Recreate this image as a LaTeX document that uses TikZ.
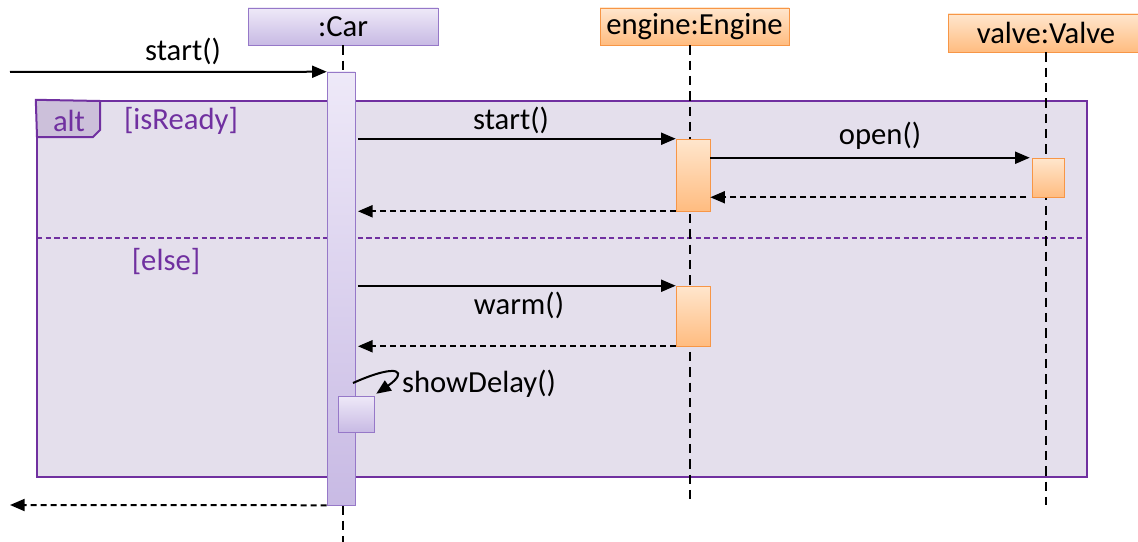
\documentclass[tikz,border=0pt]{standalone}
\usepackage{fontspec}
\setmainfont{Carlito}
\usetikzlibrary{arrows.meta}

\definecolor{framefill}{RGB}{228,223,236}
\definecolor{framedraw}{RGB}{112,48,160}
\definecolor{tabfill}{RGB}{204,192,218}
\definecolor{cartop}{RGB}{238,233,248}
\definecolor{carbot}{RGB}{200,186,228}
\definecolor{carborder}{RGB}{150,120,200}
\definecolor{engtop}{RGB}{255,230,205}
\definecolor{engbot}{RGB}{255,188,128}
\definecolor{engborder}{RGB}{247,150,70}

\begin{document}
\begin{tikzpicture}[x=0.75pt, y=-0.75pt, font=\fontsize{23}{27}\selectfont,
    carbox/.style ={draw=carborder, top color=cartop, bottom color=carbot, inner sep=0pt},
    engbox/.style ={draw=engborder, top color=engtop, bottom color=engbot, inner sep=0pt},
    lifeline/.style ={line width=2.2pt, dash pattern=on 7pt off 4.5pt},
    call/.style ={line width=1.5pt, -{Triangle[length=11pt, width=9pt]}},
    reply/.style ={line width=1.5pt, dash pattern=on 4.5pt off 3pt, -{Triangle[length=11pt, width=9pt]}},
    guard/.style ={text=framedraw}]
   \useasboundingbox (0,0) rectangle (1138,542);

   % combined fragment
   \node[draw=framedraw, line width=1.8pt, fill=framefill, minimum width=787.5pt, minimum height=282pt] (alt) at (562,289) {};
   \draw[draw=framedraw, line width=1.5pt, fill=tabfill] (alt.north west) -- (100,101) -- (100,130) -- (93,137) -- (37,137) -- cycle;
   \node[guard] (altname) at (69,121) {alt};
   \node[guard] (ready) at (181,121) {[isReady]};
   \node[guard] (else) at (166,262) {[else]};
   \draw[draw=framedraw, line width=1pt, dash pattern=on 4pt off 2.5pt] (37,238) coordinate (sepL) -- (1087,238) coordinate (sepR);

   % heads
   \node[carbox, minimum width=142.5pt, minimum height=27.75pt] (car) at (343,26.5) {:Car};
   \node[engbox, minimum width=141.75pt, minimum height=27.75pt] (engine) at (694.5,26.5) {engine:Engine};
   \node[engbox, minimum width=147pt, minimum height=28.5pt] (valve) at (1046,33) {valve:Valve};

   % lifelines
   \coordinate (carend) at (343,542);
   \coordinate (engend) at (690,505);
   \coordinate (valend) at (1046,505);
   \draw[lifeline] (car.south) -- (carend);
   \draw[lifeline] (engine.south -| engend) -- (engend);
   \draw[lifeline] (valve.south) -- (valend);

   % activations
   \node[carbox, minimum width=21pt, minimum height=324.75pt] (caract) at (341,288.5) {};
   \node[engbox, minimum width=25.5pt, minimum height=54pt] (engact1) at (693,175) {};
   \node[engbox, minimum width=24pt, minimum height=29.25pt] (valact) at (1048,177.5) {};
   \node[engbox, minimum width=25.5pt, minimum height=45pt] (engact2) at (693,316) {};
   \node[carbox, minimum width=27pt, minimum height=27pt] (selfact) at (356,414) {};

   % messages
   \coordinate (in) at (10,72);
   \coordinate (out) at (10,505);
   \coordinate (selfout) at (353,383);
   \draw[call] (in) -- (caract.north west);
   \node (m1) at (183,51) {start()};
   \draw[call] ([xshift=2pt]caract.east |- engact1.north) -- (engact1.north west);
   \node (m2) at (511,120) {start()};
   \draw[call] (engact1.east |- valact.north) -- ([xshift=-1.5pt]valact.north west);
   \node (m3) at (880,136) {open()};
   \draw[reply] ([xshift=-4pt]valact.south west) -- (engact1.east |- valact.south);
   \draw[reply] (engact1.south west) -- ([xshift=2pt]caract.east |- engact1.south);
   \draw[call] ([xshift=2pt]caract.east |- engact2.north) -- (engact2.north west);
   \node (m4) at (519,305) {warm()};
   \draw[reply] (engact2.south west) -- ([xshift=2pt]caract.east |- engact2.south);
   \draw[call] (selfout) .. controls (400,362) and (408,372) .. ([shift={(1.5pt,1.5pt)}]selfact.north east);
   \node (m5) at (479,384) {showDelay()};
   \draw[reply] (caract.south west) -- (out);
 \end{tikzpicture}
\end{document}
